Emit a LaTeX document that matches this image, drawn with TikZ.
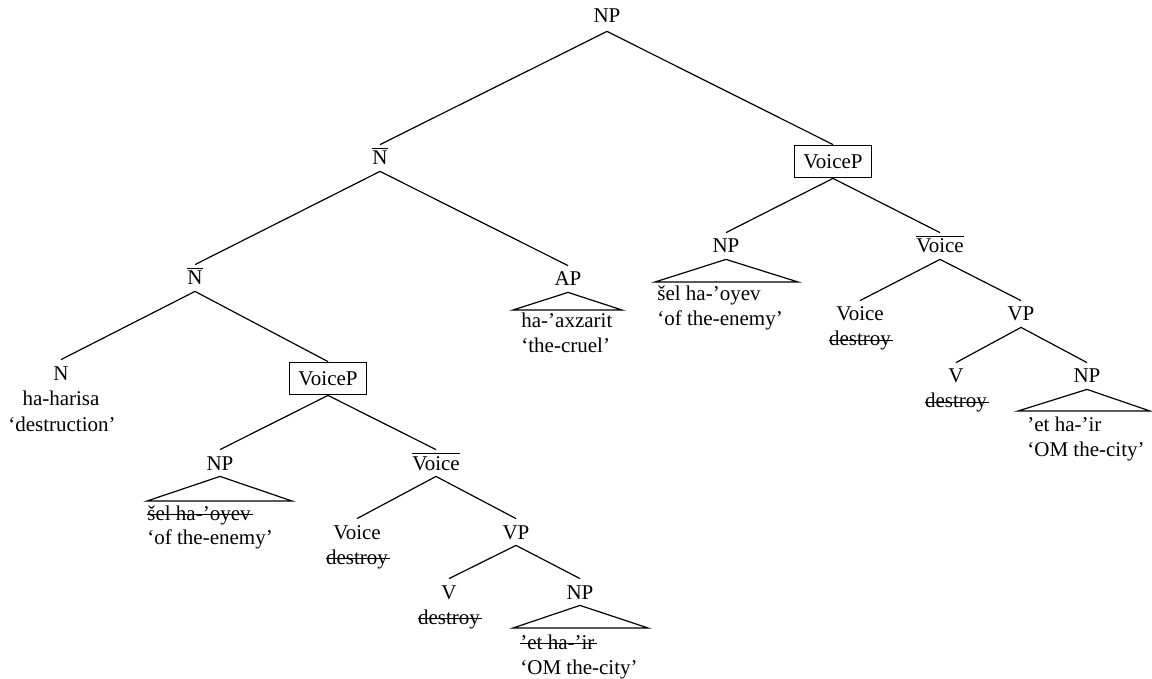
\documentclass[tikz,border=0pt]{standalone}
\usepackage{fontspec}
\setmainfont{Liberation Serif}
\begin{document}
\begin{tikzpicture}[x=0.5pt,y=-0.5pt,
  every node/.style={font=\fontsize{10.5}{12.6}\selectfont},
  cat/.style={anchor=base, inner xsep=0pt, inner ysep=3pt, text height=7pt, text depth=0pt},
  catbox/.style={anchor=base, draw, line width=0.5pt, inner xsep=4.25pt, inner ysep=4.7pt, text height=7pt, text depth=0pt},
  word/.style={anchor=base, inner sep=0pt},
  wordl/.style={anchor=base west, inner sep=0pt},
  branch/.style={line width=0.6pt},
  roof/.style={line width=0.6pt, line join=miter},
  struck/.style={line width=0.5pt}
]
\useasboundingbox (0,0) rectangle (1152,679);

% ---- upper part of the tree
\node[cat, inner ysep=4pt] (np) at (607,23) {NP};
\node[cat] (nbarA) at (380,165) {$\overline{\mbox{N}}$};
\node[catbox] (vpR) at (833,168.5) {VoiceP};
\node[cat] (nbarB) at (195,285) {$\overline{\mbox{N}}$};
\node[cat] (ap) at (568,286) {AP};

% AP roof
\coordinate (apL) at (513,310);
\coordinate (apR) at (622,310);
\node[wordl] (apw1) at (521,328) {ha-'axzarit};
\node[wordl] (apw2) at (521,353) {`the-cruel'};

% ---- right VoiceP
\node[cat] (npR) at (726,253) {NP};
\coordinate (npRL) at (655,282);
\coordinate (npRR) at (798,282);
\node[wordl] (npRw1) at (657,301) {šel ha-'oyev};
\node[wordl] (npRw2) at (657,326) {`of the-enemy'};
\node[cat] (vbarR) at (940,253) {$\overline{\mbox{Voice}}$};
\node[cat] (voiceR) at (860,321) {Voice};
\node[word] (voiceRw) at (860,346) {destroy};
\node[cat] (vpphR) at (1021,321) {VP};
\node[cat] (vR) at (956,383) {V};
\node[word] (vRw) at (956,408) {destroy};
\node[cat] (objR) at (1087,383) {NP};
\coordinate (objRL) at (1018,411);
\coordinate (objRR) at (1150,411);
\node[wordl] (objRw1) at (1027,431) {'et ha-'ir};
\node[wordl] (objRw2) at (1027,456) {`OM the-city'};

% ---- left part
\node[cat] (nleaf) at (61,380) {N};
\node[word] (nleafw1) at (61,406) {ha-harisa};
\node[word] (nleafw2) at (62,431) {`destruction'};
\node[catbox] (vpL) at (328,385.5) {VoiceP};
\node[cat] (npL) at (220,470) {NP};
\coordinate (npLL) at (147,501);
\coordinate (npLR) at (292,501);
\node[wordl] (npLw1) at (147,520) {šel ha-'oyev};
\node[wordl] (npLw2) at (147,544) {`of the-enemy'};
\node[cat] (vbarL) at (436,470) {$\overline{\mbox{Voice}}$};
\node[cat] (voiceL) at (357,539) {Voice};
\node[word] (voiceLw) at (357,564) {destroy};
\node[cat] (vpphL) at (516,539) {VP};
\node[cat] (vL) at (449,599) {V};
\node[word] (vLw) at (449,624) {destroy};
\node[cat] (objL) at (580,599) {NP};
\coordinate (objLL) at (513,628);
\coordinate (objLR) at (648,628);
\node[wordl] (objLw1) at (520,649) {'et ha-'ir};
\node[wordl] (objLw2) at (520,674) {`OM the-city'};

% ---- struck-out (unpronounced) copies
\foreach \w in {voiceRw,vRw,npLw1,voiceLw,vLw,objLw1}
  \draw[struck] ([yshift=2.6pt]\w.base west) -- ([xshift=1pt,yshift=2.6pt]\w.base east);

% ---- branches
\draw[branch] (np.south) -- (nbarA.north);
\draw[branch] (np.south) -- (vpR.north);
\draw[branch] (nbarA.south) -- (nbarB.north);
\draw[branch] (nbarA.south) -- (ap.north);
\draw[branch] (vpR.south) -- (npR.north);
\draw[branch] (vpR.south) -- (vbarR.north);
\draw[branch] (vbarR.south) -- (voiceR.north);
\draw[branch] (vbarR.south) -- (vpphR.north);
\draw[branch] (vpphR.south) -- (vR.north);
\draw[branch] (vpphR.south) -- (objR.north);
\draw[branch] (nbarB.south) -- (nleaf.north);
\draw[branch] (nbarB.south) -- (vpL.north);
\draw[branch] (vpL.south) -- (npL.north);
\draw[branch] (vpL.south) -- (vbarL.north);
\draw[branch] (vbarL.south) -- (voiceL.north);
\draw[branch] (vbarL.south) -- (vpphL.north);
\draw[branch] (vpphL.south) -- (vL.north);
\draw[branch] (vpphL.south) -- (objL.north);

% ---- roofs
\draw[roof] (ap.south) -- (apL) -- (apR) -- cycle;
\draw[roof] (npR.south) -- (npRL) -- (npRR) -- cycle;
\draw[roof] (objR.south) -- (objRL) -- (objRR) -- cycle;
\draw[roof] (npL.south) -- (npLL) -- (npLR) -- cycle;
\draw[roof] (objL.south) -- (objLL) -- (objLR) -- cycle;
\end{tikzpicture}
\end{document}
